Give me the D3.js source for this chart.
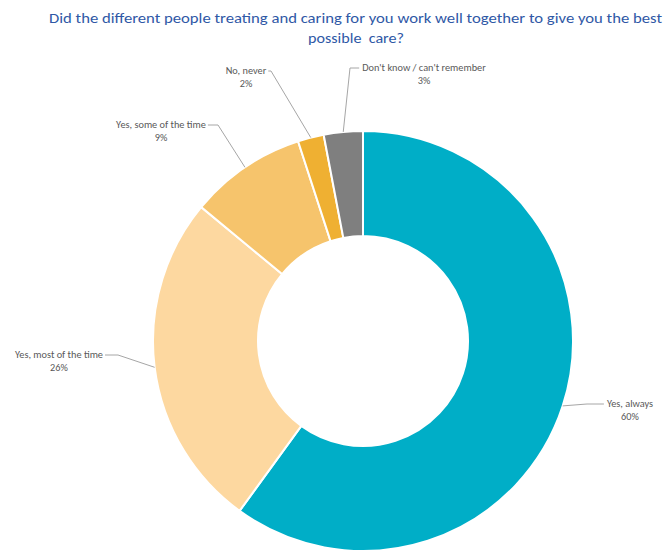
<!DOCTYPE html>
<html>
<head>
<meta charset="utf-8">
<script src="https://cdn.jsdelivr.net/npm/d3@7"></script>
<style>
  html, body { margin: 0; padding: 0; background: #fff; }
  svg { display: block; }
</style>
</head>
<body>
<svg id="chart" width="665" height="552"></svg>
<script>
// Survey responses, in drawing order (clockwise from 12 o'clock)
const categories = ["Yes, always", "Yes, most of the time", "Yes, some of the time", "No, never", "Don't know / can't remember"];
const values = [60, 26, 9, 2, 3];
const valueLabels = ["60%", "26%", "9%", "2%", "3%"];
const colors = ["#00AEC7", "#FDD8A0", "#F6C46C", "#EFB032", "#7F7F7F"];

const titleLines = [
  "Did the different people treating and caring for you work well together to give you the best",
  "possible  care?"
];

const width = 665, height = 552;
const cx = 363, cy = 341;
const outerR = 210, innerR = 105;
const font = "Carlito, Calibri, Lato, 'Liberation Sans', sans-serif";

const svg = d3.select("#chart");

// Title, two centred lines
const titleSpec = [
  { x: 355.5, y: 23, len: 613 },
  { x: 356, y: 43, len: 96 }
];
titleLines.forEach((line, i) => {
  svg.append("text")
    .attr("x", titleSpec[i].x)
    .attr("y", titleSpec[i].y)
    .attr("text-anchor", "middle")
    .attr("fill", "#2F58A6")
    .attr("textLength", titleSpec[i].len)
    .attr("lengthAdjust", "spacingAndGlyphs")
    .style("font-family", font)
    .style("font-size", "15px")
    .style("white-space", "pre")
    .text(line);
});

const pie = d3.pie().sort(null).value(d => d);
const arcs = pie(values);

const arc = d3.arc().innerRadius(innerR).outerRadius(outerR);
const g = svg.append("g").attr("transform", `translate(${cx},${cy})`);

g.selectAll("path.slice")
  .data(arcs)
  .join("path")
  .attr("class", "slice")
  .attr("d", arc)
  .attr("fill", (d, i) => colors[i])
  .attr("stroke", "#fff")
  .attr("stroke-width", 2);

// Label placement: label block centre x, first baseline, elbow x of the leader line
const labelLayout = [
  { tx: 630, by: 407, ex: 587, side: "right" },
  { tx: 59,  by: 358, ex: 118, side: "left" },
  { tx: 161, by: 128, ex: 218, side: "left" },
  { tx: 246, by: 74,  ex: 271, side: "left" },
  { tx: 424, by: 71,  ex: 350, side: "right" }
];

const labelSize = "10.3px";
const edgeArc = d3.arc().innerRadius(outerR).outerRadius(outerR);

function measure(str) {
  const tmp = svg.append("text")
    .style("font-family", font)
    .style("font-size", labelSize)
    .text(str);
  const w = tmp.node().getComputedTextLength();
  tmp.remove();
  return w;
}

arcs.forEach((d, i) => {
  const L = labelLayout[i];
  const [px, py] = edgeArc.centroid(d);
  const sx = cx + px, sy = cy + py;
  const lineY = L.by - 3;
  const textW = measure(categories[i]);
  const hx = L.side === "left" ? L.tx + textW / 2 + 2 : L.tx - textW / 2 - 3;
  svg.append("polyline")
    .attr("points", `${sx},${sy} ${L.ex},${lineY} ${hx},${lineY}`)
    .attr("fill", "none")
    .attr("stroke", "#A6A6A6")
    .attr("stroke-width", 1);
  const t = svg.append("text")
    .attr("text-anchor", "middle")
    .attr("fill", "#595959")
    .style("font-family", font)
    .style("font-size", labelSize);
  t.append("tspan").attr("x", L.tx).attr("y", L.by).text(categories[i]);
  t.append("tspan").attr("x", L.tx).attr("y", L.by + 13).text(valueLabels[i]);
});
</script>
</body>
</html>
